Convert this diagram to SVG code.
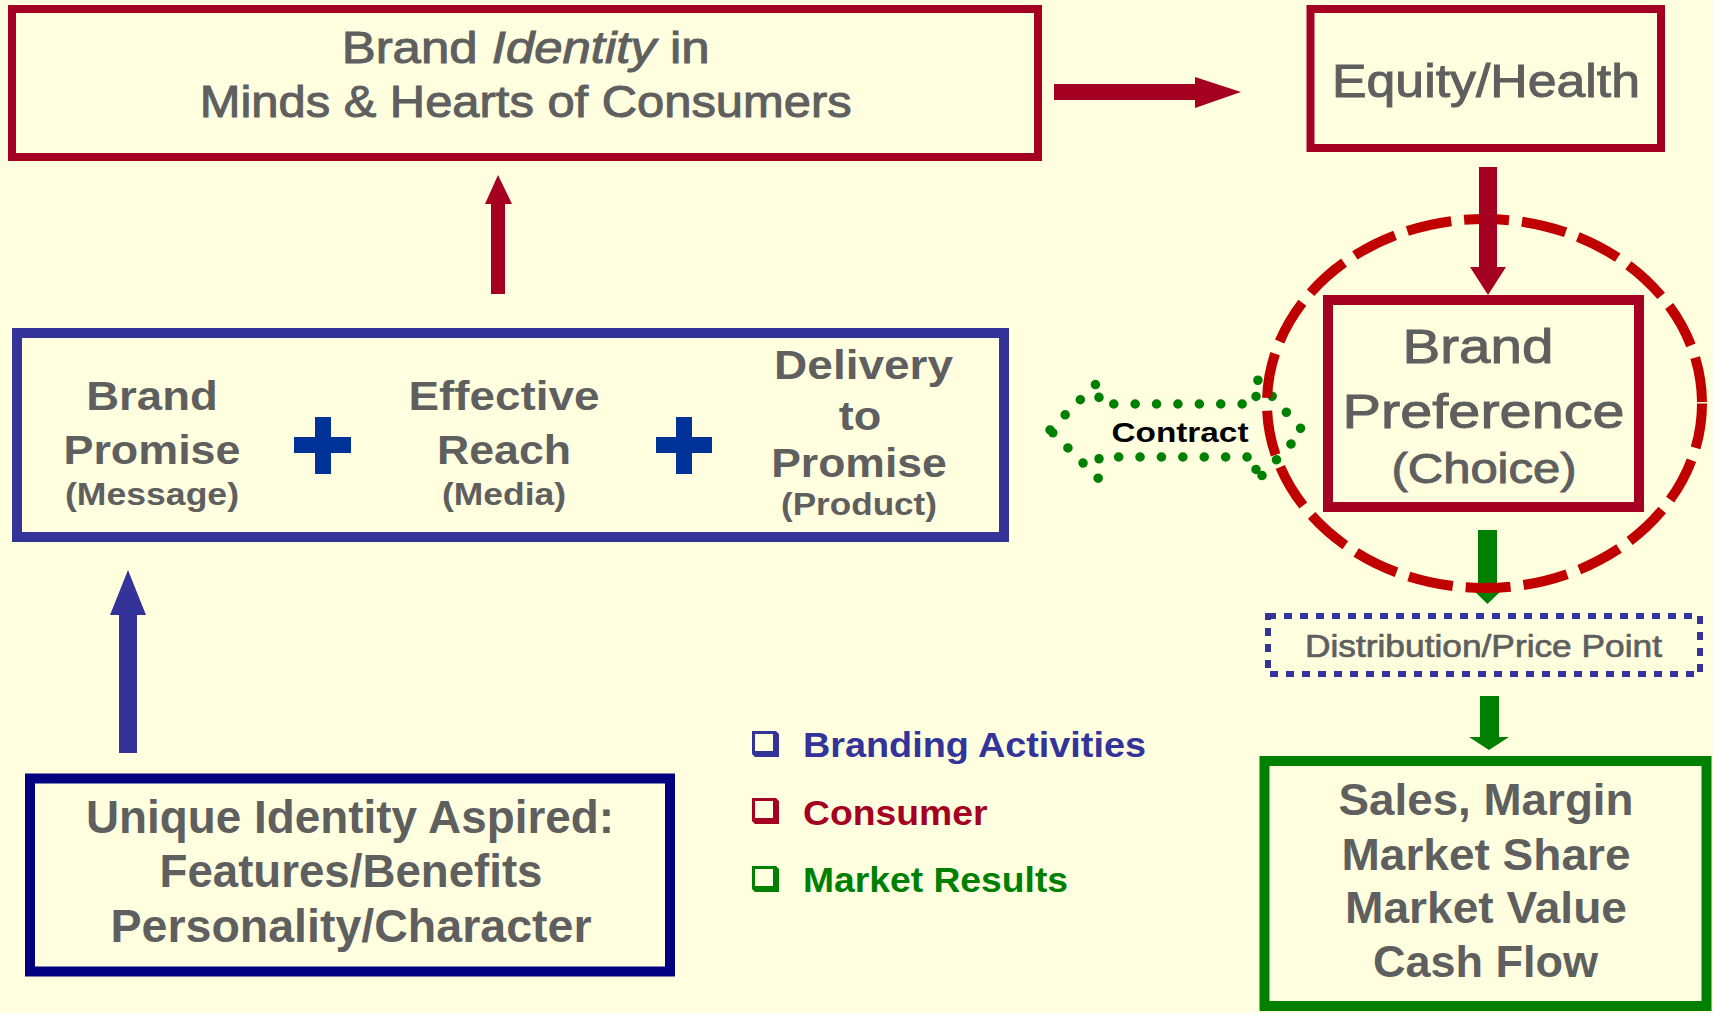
<svg xmlns="http://www.w3.org/2000/svg" width="1713" height="1013" viewBox="0 0 1713 1013">
<style>
.t{font-family:"Liberation Sans",Arial,sans-serif;fill:#5f5f5f;text-anchor:middle}
.r{stroke:#5f5f5f;stroke-width:1}
.b{font-weight:bold}
.box{fill:none}
.red{stroke:#a50021}
.lg{font-family:"Liberation Sans",Arial,sans-serif;font-weight:bold;font-size:35px}
</style>
<rect width="1713" height="1013" fill="#ffffe0"/>

<g id="connectors">
  <polygon id="contract" points="1050,430 1099,381 1099,404 1256,404 1256,378 1303,431 1256,482 1256,457 1099,457 1099,479" fill="none" stroke="#008000" stroke-width="9.5" stroke-linecap="round" stroke-linejoin="round" stroke-dasharray="0.1 21.3"/>
  <polygon points="1478,530 1497,530 1497,587 1505,587 1487.5,604 1470,587 1478,587" fill="#008000"/>
</g>

<g id="preference-ellipse">
  <ellipse cx="1484.5" cy="403.5" rx="217.5" ry="184.5" fill="none" stroke="#c00000" stroke-width="10" stroke-dasharray="45 13"/>
</g>

<g id="connectors-top">
  <polygon points="1054,84 1195,84 1195,77 1241,92 1195,108 1195,100 1054,100" fill="#a50021"/>
  <polygon points="491,294 491,204 485,204 498,175 512,204 505,204 505,294" fill="#a50021"/>
  <polygon points="1479,167 1497,167 1497,267 1506,267 1488,295 1470,267 1479,267" fill="#a50021"/>
  <polygon points="119,753 119,615 110,615 128,570 146,615 137,615 137,753" fill="#333399"/>
  <polygon points="1480,696 1499,696 1499,737 1509,737 1489,750 1469,737 1480,737" fill="#008000"/>
</g>

<g id="contract-label">
  <text class="t b" x="1180" y="442" font-size="28" style="fill:#000" textLength="137" lengthAdjust="spacingAndGlyphs">Contract</text>
</g>

<g id="brand-identity">
  <rect class="box red" x="12" y="9" width="1026" height="148" stroke-width="8"/>
  <text class="t r" x="525.7" y="63" font-size="45" textLength="368" lengthAdjust="spacingAndGlyphs">Brand <tspan font-style="italic">Identity</tspan> in</text>
  <text class="t r" x="525.7" y="117" font-size="44" textLength="652" lengthAdjust="spacingAndGlyphs">Minds &amp; Hearts of Consumers</text>
</g>

<g id="equity">
  <rect class="box red" x="1310.5" y="9" width="350.5" height="139" stroke-width="8"/>
  <text class="t r" x="1486" y="97" font-size="47" textLength="308" lengthAdjust="spacingAndGlyphs">Equity/Health</text>
</g>

<g id="brand-preference">
  <rect class="box red" x="1328" y="300" width="311" height="207" stroke-width="10"/>
  <text class="t r" x="1478" y="363" font-size="49" textLength="151" lengthAdjust="spacingAndGlyphs">Brand</text>
  <text class="t r" x="1483.6" y="428" font-size="49" textLength="282" lengthAdjust="spacingAndGlyphs">Preference</text>
  <text class="t r" x="1484" y="483" font-size="43" textLength="185" lengthAdjust="spacingAndGlyphs">(Choice)</text>
</g>

<g id="branding-activities">
  <rect class="box" x="17" y="333" width="987" height="204" stroke="#333399" stroke-width="10"/>
  <text class="t b" x="152" y="410" font-size="40" textLength="131.5" lengthAdjust="spacingAndGlyphs">Brand</text>
  <text class="t b" x="152" y="464" font-size="40" textLength="177" lengthAdjust="spacingAndGlyphs">Promise</text>
  <text class="t b" x="152" y="505" font-size="31" textLength="174" lengthAdjust="spacingAndGlyphs">(Message)</text>
  <path d="M315,437 V417 H331 V437 H351 V453 H331 V474 H315 V453 H294 V437 Z" fill="#003399"/>
  <text class="t b" x="504" y="410" font-size="40" textLength="191" lengthAdjust="spacingAndGlyphs">Effective</text>
  <text class="t b" x="504" y="464" font-size="40" textLength="134" lengthAdjust="spacingAndGlyphs">Reach</text>
  <text class="t b" x="504" y="505" font-size="31" textLength="124" lengthAdjust="spacingAndGlyphs">(Media)</text>
  <path d="M676,437 V417 H692 V437 H712 V453 H692 V474 H676 V453 H656 V437 Z" fill="#003399"/>
  <text class="t b" x="863.6" y="379" font-size="40" textLength="179" lengthAdjust="spacingAndGlyphs">Delivery</text>
  <text class="t b" x="860" y="430" font-size="40" textLength="42.6" lengthAdjust="spacingAndGlyphs">to</text>
  <text class="t b" x="859" y="477" font-size="40" textLength="175.6" lengthAdjust="spacingAndGlyphs">Promise</text>
  <text class="t b" x="859" y="515" font-size="31" textLength="156" lengthAdjust="spacingAndGlyphs">(Product)</text>
</g>

<g id="unique-identity">
  <rect class="box" x="30" y="778.5" width="640" height="193" stroke="#000080" stroke-width="10"/>
  <text class="t b" x="350" y="833" font-size="46" textLength="528" lengthAdjust="spacingAndGlyphs">Unique Identity Aspired:</text>
  <text class="t b" x="351" y="887" font-size="46" textLength="383" lengthAdjust="spacingAndGlyphs">Features/Benefits</text>
  <text class="t b" x="351" y="942" font-size="46" textLength="481" lengthAdjust="spacingAndGlyphs">Personality/Character</text>
</g>

<g id="distribution">
  <rect class="box" x="1268" y="616" width="432" height="58" stroke="#333399" stroke-width="6" stroke-dasharray="8 8"/>
  <text class="t r" x="1483.5" y="657" font-size="31" textLength="357" lengthAdjust="spacingAndGlyphs" style="stroke-width:0.7">Distribution/Price Point</text>
</g>

<g id="market-results">
  <rect class="box" x="1264.5" y="761" width="442" height="245" stroke="#008000" stroke-width="10"/>
  <text class="t b" x="1486" y="815" font-size="45" textLength="295" lengthAdjust="spacingAndGlyphs">Sales, Margin</text>
  <text class="t b" x="1486" y="870" font-size="45" textLength="289" lengthAdjust="spacingAndGlyphs">Market Share</text>
  <text class="t b" x="1486" y="923" font-size="45" textLength="282" lengthAdjust="spacingAndGlyphs">Market Value</text>
  <text class="t b" x="1485.5" y="977" font-size="45" textLength="225" lengthAdjust="spacingAndGlyphs">Cash Flow</text>
</g>

<g id="legend">
  <path d="M752,731 H776 L779,734 V757 H755 L752,754 Z M755,734 V751 H773 V734 Z" fill="#333399" fill-rule="evenodd"/>
  <text class="lg" x="803" y="757" fill="#333399" textLength="343" lengthAdjust="spacingAndGlyphs">Branding Activities</text>
  <path d="M752,798 H776 L779,801 V824 H755 L752,821 Z M755,801 V818 H773 V801 Z" fill="#a50021" fill-rule="evenodd"/>
  <text class="lg" x="803" y="825" fill="#a50021" textLength="184.5" lengthAdjust="spacingAndGlyphs">Consumer</text>
  <path d="M752,866 H776 L779,869 V892 H755 L752,889 Z M755,869 V886 H773 V869 Z" fill="#008000" fill-rule="evenodd"/>
  <text class="lg" x="803" y="892" fill="#008000" textLength="265" lengthAdjust="spacingAndGlyphs">Market Results</text>
</g>
</svg>
